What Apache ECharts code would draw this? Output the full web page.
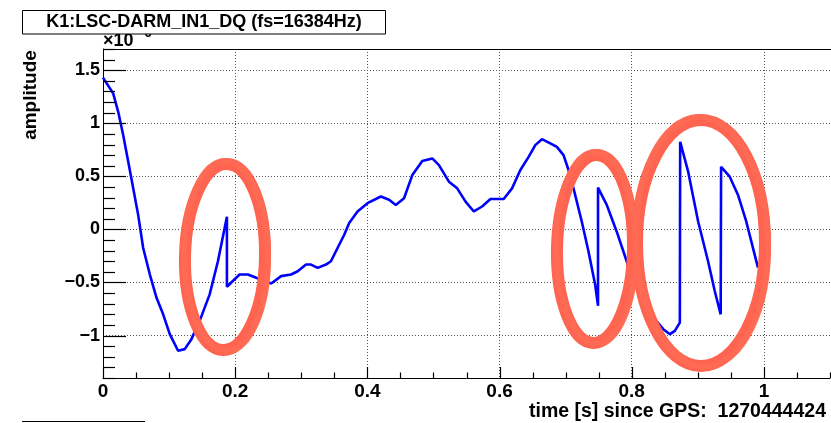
<!DOCTYPE html>
<html>
<head>
<meta charset="utf-8">
<script src="https://cdn.jsdelivr.net/npm/echarts@6/dist/echarts.min.js"></script>
<style>
  html, body { margin: 0; padding: 0; background: #fff; }
  #chart { width: 831px; height: 423px; }
</style>
</head>
<body>
<div id="chart"></div>
<script>
/* K1:LSC-DARM_IN1_DQ time series (amplitude in x10^-6) */
const times = [
  0, 0.0155, 0.0231, 0.0306, 0.0382, 0.0457, 0.0532, 0.0608, 0.0709, 0.081,
  0.091, 0.101, 0.1136, 0.1237, 0.1338, 0.1463, 0.1614, 0.1739, 0.1875, 0.1875,
  0.2066, 0.2192, 0.2318, 0.2545, 0.2695, 0.2846, 0.2946, 0.3072, 0.3148, 0.3247,
  0.3374, 0.3449, 0.3549, 0.365, 0.3725, 0.3851, 0.4002, 0.4204, 0.4329, 0.443,
  0.4555, 0.468, 0.4831, 0.4982, 0.5083, 0.5234, 0.5359, 0.5486, 0.5611, 0.5736,
  0.5863, 0.6063, 0.6189, 0.6315, 0.644, 0.6541, 0.6641, 0.6768, 0.6867, 0.6968,
  0.7044, 0.7119, 0.7244, 0.7345, 0.7446, 0.749, 0.749, 0.7622, 0.7772, 0.7873,
  0.7974, 0.8115, 0.825, 0.8351, 0.8477, 0.8578, 0.8652, 0.8728, 0.8733, 0.8854,
  0.9005, 0.9155, 0.9256, 0.9346, 0.9352, 0.9483, 0.9608, 0.9733, 0.986, 0.991
];
const amps = [
  1.43, 1.28, 1.106, 0.887, 0.637, 0.387, 0.137, -0.175, -0.425, -0.644,
  -0.8, -0.987, -1.143, -1.128, -1.034, -0.862, -0.612, -0.3, 0.12, -0.54,
  -0.425, -0.425, -0.456, -0.51, -0.44, -0.425, -0.394, -0.331, -0.331, -0.362,
  -0.331, -0.3, -0.175, -0.05, 0.06, 0.169, 0.247, 0.31, 0.28, 0.231,
  0.294, 0.512, 0.644, 0.669, 0.606, 0.45, 0.387, 0.262, 0.169, 0.216,
  0.287, 0.287, 0.387, 0.56, 0.684, 0.794, 0.85, 0.81, 0.778, 0.7,
  0.56, 0.387, 0.075, -0.206, -0.518, -0.72, 0.394, 0.231, -0.019, -0.206,
  -0.394, -0.56, -0.74, -0.846, -0.94, -0.987, -0.956, -0.878, 0.825, 0.544,
  0.075, -0.3, -0.58, -0.8, 0.59, 0.497, 0.325, 0.075, -0.237, -0.36
];

const xRange = [0, 1.1];
const yRange = [-1.4, 1.7];
const xMajorTicks = [0, 0.2, 0.4, 0.6, 0.8, 1];
const yMajorTicks = [-1, -0.5, 0, 0.5, 1, 1.5];
const xMinor = 0.05;
const yMinor = 0.1;

const titleText = "K1:LSC-DARM_IN1_DQ (fs=16384Hz)";
const xTitle = "time [s] since GPS:  1270444424";
const yTitle = "amplitude";

/* hand-drawn red rings, pixel geometry */
const rings = [
  { cx: 225, cy: 257, rx: 40, ry: 93, rot: -0.02 },
  { cx: 595, cy: 249, rx: 38, ry: 94, rot: -0.02 },
  { cx: 701, cy: 243, rx: 64, ry: 123, rot: 0 }
];

const FONT = "Liberation Sans";
const GRID = { left: 103, top: 49, width: 727, height: 329 };
const chart = echarts.init(document.getElementById("chart"));

const minus = v => String(v).replace("-", "\u2212");
const dotted = { show: true, lineStyle: { color: "#555", type: [1, 2], width: 1 } };

// ROOT-style inward ticks: every minor step, majors drawn longer
function tickValues(range, step) {
  const out = [];
  const n = Math.round((range[1] - range[0]) / step);
  for (let i = 0; i <= n; i++) out.push(+(range[0] + i * step).toFixed(4));
  return out;
}
const isMajor = (v, majors) => majors.some(m => Math.abs(m - v) < 1e-6);
const xTicks = tickValues(xRange, xMinor);
const yTicks = tickValues(yRange, yMinor);

const baseGraphics = [
  ...rings.map(r => ({
    type: "ellipse",
    shape: { cx: r.cx, cy: r.cy, rx: r.rx, ry: r.ry },
    rotation: r.rot, originX: r.cx, originY: r.cy,
    style: { fill: "none", stroke: "#ff6450", lineWidth: 12 },
    z: 50
  })),
  ...rings.map(r => ({
    type: "ellipse",
    shape: { cx: r.cx + 1, cy: r.cy - 1, rx: r.rx + 2, ry: r.ry + 2 },
    rotation: r.rot + 0.03, originX: r.cx, originY: r.cy,
    style: { fill: "none", stroke: "#ff6a55", lineWidth: 6, opacity: 0.9 },
    z: 51
  })),
  {
    type: "text", x: 103, y: 41, z: 60,
    style: { text: "\u00d710", font: "bold 18px " + FONT, fill: "#000",
             align: "left", verticalAlign: "middle", textAlign: "left", textVerticalAlign: "middle" }
  },
  {
    type: "text", x: 137, y: 33, z: 60,
    style: { text: "\u22126", font: "bold 13px " + FONT, fill: "#000",
             align: "left", verticalAlign: "middle", textAlign: "left", textVerticalAlign: "middle" }
  },
  {
    type: "rect", z: 100,
    shape: { x: 22.5, y: 10.5, width: 363, height: 23.5 },
    style: { fill: "#fff", stroke: "#000", lineWidth: 1 }
  },
  {
    type: "text", x: 204, y: 22.5, z: 101,
    style: { text: titleText, font: "bold 18px " + FONT, fill: "#000",
             align: "center", verticalAlign: "middle", textAlign: "center", textVerticalAlign: "middle" }
  },
  {
    type: "text", x: 31, y: 95, rotation: Math.PI / 2, z: 60,
    style: { text: yTitle, font: "bold 19px " + FONT, fill: "#000",
             align: "center", verticalAlign: "middle", textAlign: "center", textVerticalAlign: "middle" }
  },
  {
    type: "text", x: 826, y: 412, z: 60,
    style: { text: xTitle, font: "bold 19.5px " + FONT, fill: "#000",
             align: "right", verticalAlign: "middle", textAlign: "right", textVerticalAlign: "middle" }
  },
  {
    type: "line", z: 60,
    shape: { x1: 22, y1: 421.5, x2: 145, y2: 421.5 },
    style: { stroke: "#000", lineWidth: 1 }
  },
  {
    /* top edge of the frame */
    type: "line", z: 60,
    shape: { x1: GRID.left, y1: GRID.top + 0.5, x2: 831, y2: GRID.top + 0.5 },
    style: { stroke: "#000", lineWidth: 1 }
  }
];

const option = {
  animation: false,
  grid: GRID,
  xAxis: {
    type: "value", min: xRange[0], max: xRange[1], interval: xMinor,
    axisLine: { show: true, onZero: false, lineStyle: { color: "#000", width: 1 } },
    axisTick: { show: false, customValues: xMajorTicks },
    axisLabel: {
      margin: 4, color: "#000", fontFamily: FONT, fontWeight: "bold", fontSize: 19,
      customValues: xMajorTicks, formatter: minus
    },
    splitLine: dotted
  },
  yAxis: {
    type: "value", min: yRange[0], max: yRange[1], interval: yMinor,
    axisLine: { show: true, onZero: false, lineStyle: { color: "#000", width: 1 } },
    axisTick: { show: false, customValues: yMajorTicks },
    axisLabel: {
      margin: 3, color: "#000", fontFamily: FONT, fontWeight: "bold", fontSize: 18,
      customValues: yMajorTicks, formatter: minus
    },
    splitLine: dotted
  },
  series: [
    {
      type: "line",
      data: times.map((t, i) => [t, amps[i]]),
      showSymbol: false,
      lineStyle: { color: "#0000ff", width: 2.6 },
      z: 3
    }
  ],
  graphic: { elements: baseGraphics }
};

try { chart.setOption(option); } catch (e) { console.error(e); }

// tick marks placed through the grid's own scales
function toPx(x, y) {
  let p = null;
  try { p = chart.convertToPixel({ gridIndex: 0 }, [x, y]); } catch (e) { p = null; }
  if (!p || !isFinite(p[0]) || !isFinite(p[1])) {
    p = [GRID.left + (x - xRange[0]) / (xRange[1] - xRange[0]) * GRID.width,
         GRID.top + (yRange[1] - y) / (yRange[1] - yRange[0]) * GRID.height];
  }
  return p;
}
const tickEls = [];
xTicks.forEach(v => {
  const p = toPx(v, yRange[0]);
  const x = Math.round(p[0]) + 0.5;
  const len = isMajor(v, xMajorTicks) ? 11 : 5.5;
  tickEls.push({ type: "line", z: 45, silent: true,
                 shape: { x1: x, y1: p[1], x2: x, y2: p[1] - len },
                 style: { stroke: "#000", lineWidth: 1.2 } });
});
yTicks.forEach(v => {
  const p = toPx(xRange[0], v);
  const y = Math.round(p[1]) + 0.5;
  const len = isMajor(v, yMajorTicks) ? 23 : 12;
  tickEls.push({ type: "line", z: 45, silent: true,
                 shape: { x1: p[0], y1: y, x2: p[0] + len, y2: y },
                 style: { stroke: "#000", lineWidth: 1.2 } });
});
try {
  chart.setOption({ graphic: { elements: baseGraphics.concat(tickEls) } });
} catch (e) { console.error(e); }
</script>
</body>
</html>
